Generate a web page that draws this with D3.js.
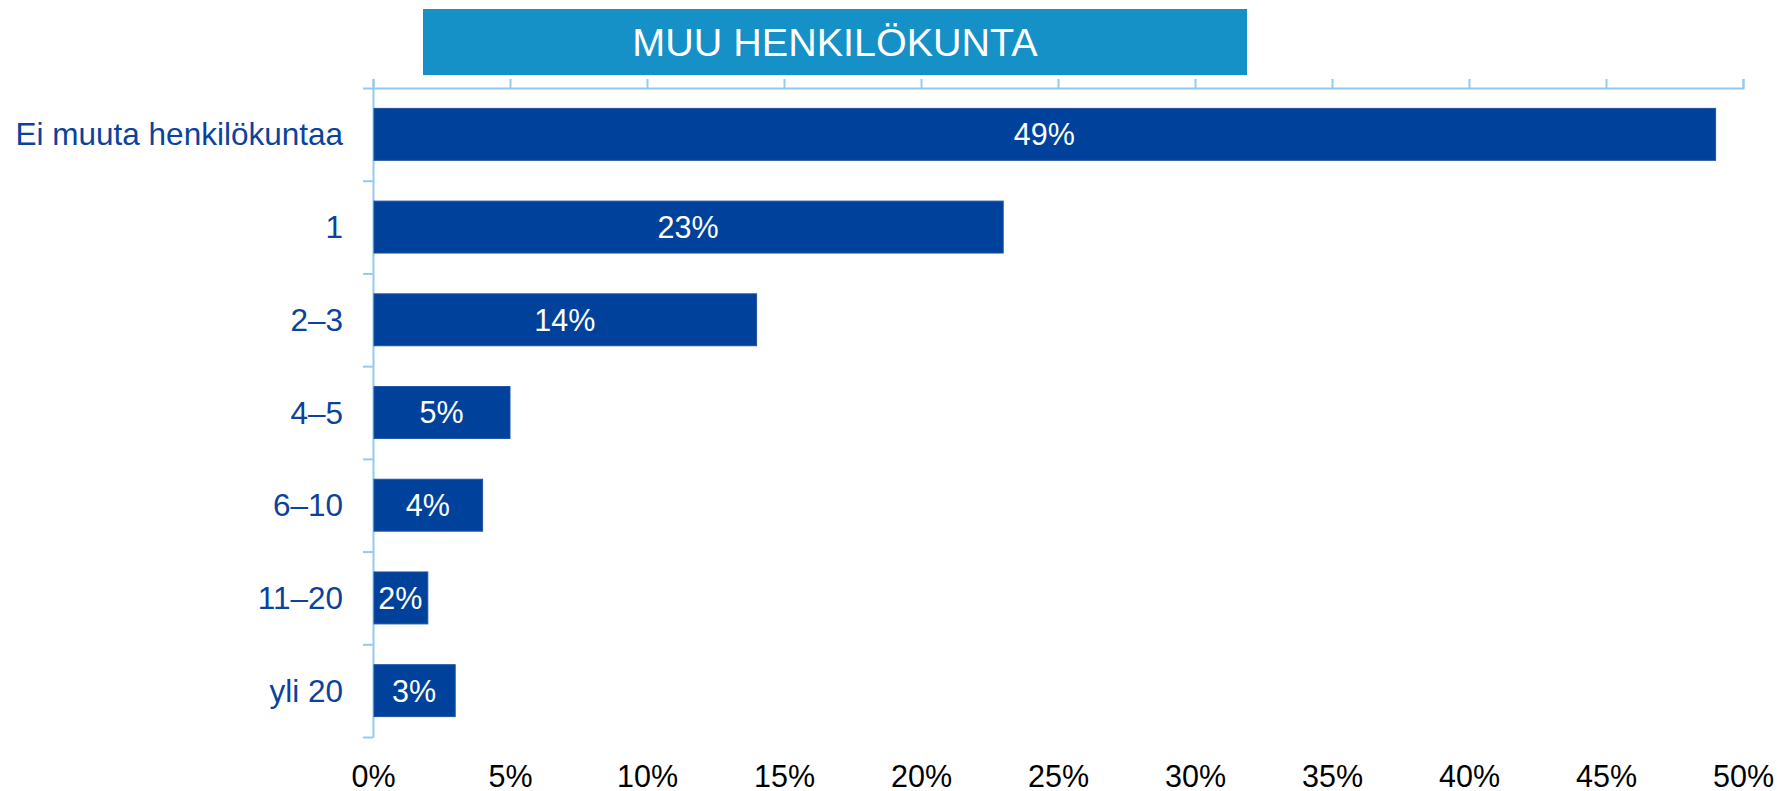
<!DOCTYPE html>
<html>
<head>
<meta charset="utf-8">
<script src="https://cdn.jsdelivr.net/npm/d3@7"></script>
<style>
  body { margin: 0; background: #fff; }
  svg { display: block; font-family: "Liberation Sans", Arial, sans-serif; }
</style>
</head>
<body>
<div id="chart"></div>
<script>
// data
const categories = ["Ei muuta henkilökuntaa", "1", "2–3", "4–5", "6–10", "11–20", "yli 20"];
const values = [49, 23, 14, 5, 4, 2, 3];
const xTicks = [0, 5, 10, 15, 20, 25, 30, 35, 40, 45, 50];
const title = "MUU HENKILÖKUNTA";

const width = 1777, height = 791;
const plotLeft = 373, plotRight = 1743, plotTop = 88, plotBottom = 737;

const axisColor = "#92cbef";
const barColor = "#00429b";
const labelColor = "#0b429c";

const svg = d3.select("#chart").append("svg")
  .attr("width", width)
  .attr("height", height);

const x = d3.scaleLinear().domain([0, 50]).range([plotLeft, plotRight]);
const y = d3.scaleBand().domain(categories).range([plotTop, plotBottom]).paddingInner(0.44).paddingOuter(0.22);
// band boundaries for the category ticks
const yEdge = d3.scaleLinear().domain([0, categories.length]).range([plotTop, plotBottom]);

// title box
svg.append("rect")
  .attr("x", 423).attr("y", 9)
  .attr("width", 824).attr("height", 66)
  .attr("fill", "#1591c8");
svg.append("text")
  .attr("x", 835).attr("y", 42)
  .attr("dy", "0.36em")
  .attr("text-anchor", "middle")
  .attr("fill", "#fff")
  .style("font-size", "39.5px")
  .text(title);

// top axis (ticks only)
const topAxis = svg.append("g")
  .attr("transform", `translate(0,${plotTop})`)
  .call(d3.axisTop(x).tickValues(xTicks).tickSize(9).tickFormat(""));

// left axis with ticks at the band edges
const leftAxis = svg.append("g")
  .attr("transform", `translate(${plotLeft},0)`)
  .call(d3.axisLeft(yEdge).tickValues(d3.range(categories.length + 1)).tickSize(10).tickSizeOuter(0).tickFormat(""));

[topAxis, leftAxis].forEach(g => {
  g.selectAll("path, line").attr("stroke", axisColor).attr("stroke-width", 2);
});

// category labels
svg.append("g").selectAll("text")
  .data(categories)
  .join("text")
  .attr("x", plotLeft - 30)
  .attr("y", d => y(d) + y.bandwidth() / 2)
  .attr("dy", "0.35em")
  .attr("text-anchor", "end")
  .attr("fill", labelColor)
  .style("font-size", "31.5px")
  .text(d => d);

// bars
svg.append("g").selectAll("rect")
  .data(values)
  .join("rect")
  .attr("x", x(0) + 1)
  .attr("y", (d, i) => y(categories[i]))
  .attr("width", d => x(d) - x(0) - 1)
  .attr("height", y.bandwidth())
  .attr("fill", barColor)
  .attr("stroke", "#1f53a6")
  .attr("stroke-width", 1);

// value labels
svg.append("g").selectAll("text")
  .data(values)
  .join("text")
  .attr("x", d => (x(d) + x(0)) / 2)
  .attr("y", (d, i) => y(categories[i]) + y.bandwidth() / 2)
  .attr("dy", "0.36em")
  .attr("text-anchor", "middle")
  .attr("fill", "#fff")
  .style("font-size", "30.5px")
  .text(d => d + "%");

// bottom tick labels
const bottomAxis = svg.append("g")
  .attr("transform", `translate(0,${plotBottom})`)
  .call(d3.axisBottom(x).tickValues(xTicks).tickSize(0).tickPadding(28).tickFormat(d => d + "%"));
bottomAxis.select(".domain").remove();
bottomAxis.selectAll("text")
  .attr("fill", "#000")
  .style("font-size", "30.5px")
  .style("font-family", "'Liberation Sans', Arial, sans-serif");
</script>
</body>
</html>
